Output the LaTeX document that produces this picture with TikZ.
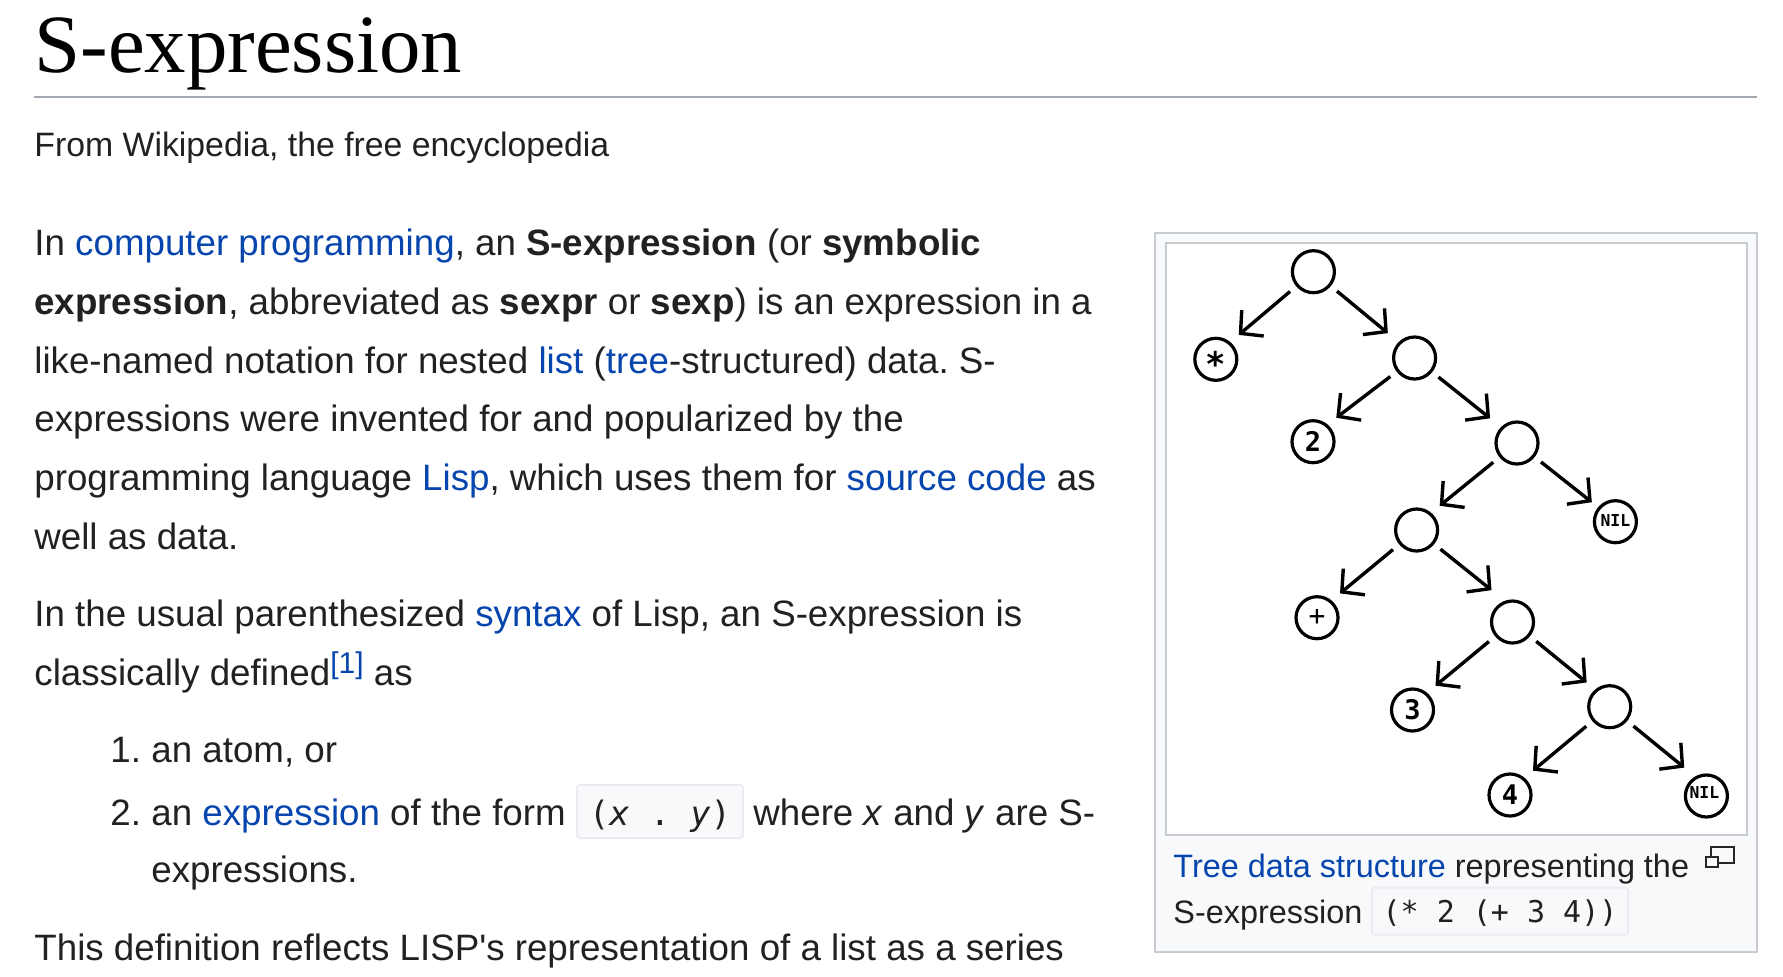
\documentclass[tikz,border=0pt]{standalone}
\usepackage{fontspec}
\setmainfont{Liberation Sans}
\setmonofont{DejaVu Sans Mono}
\newfontfamily\headingfont{Liberation Serif}
\newfontfamily\plainfont{Liberation Sans}
\usetikzlibrary{arrows.meta}
\definecolor{linkblue}{HTML}{0645AD}
\definecolor{bodygray}{HTML}{202122}
\definecolor{rulegray}{HTML}{A2A9B1}
\definecolor{boxgray}{HTML}{C8CCD1}
\definecolor{panelgray}{HTML}{F8F9FA}
\definecolor{codeline}{HTML}{EAECF0}
\newcommand{\wikilink}[1]{\textcolor{linkblue}{#1}}
\frenchspacing

\begin{document}
\begin{tikzpicture}[
    x=0.5pt,
    y=-0.5pt,
    heading/.style={
		anchor=base west,
		inner sep=0pt,
		font=\headingfont\fontsize{41.4}{46}\selectfont
	},
	subhead/.style={
		anchor=base west,
		inner sep=0pt,
		text=bodygray,
		font=\fontsize{16.9}{20}\selectfont
	},
	bodyline/.style={
		anchor=base west,
		inner sep=0pt,
		text=bodygray,
		font=\fontsize{18.36}{22}\selectfont
	},
	captionline/.style={
		anchor=base west,
		inner sep=0pt,
		text=bodygray,
		font=\fontsize{16.2}{20}\selectfont
	},
	codebox/.style={
		draw=codeline,
		line width=1pt,
		fill=panelgray,
		rounded corners=1.5pt,
		inner sep=0pt,
		text=bodygray
	},
	cell/.style={
		circle,
		draw=black,
		line width=1.6pt,
		fill=white,
		minimum size=21pt,
		inner sep=0pt
	},
	atom/.style={
		cell,
		font=\ttfamily\bfseries\fontsize{13.5}{14}\selectfont
	},
	nilatom/.style={
		cell,
		font=\ttfamily\bfseries\fontsize{8.2}{9}\selectfont
	},
	branch/.style={
		-{Straight Barb[length=8pt,width=17pt,line width=1.7pt]},
		line width=1.7pt,
		shorten <=4pt,
		shorten >=7pt
	},
	leftbranch/.style={
		branch,
		shorten >=5.5pt
	}
  ]
  \useasboundingbox (0,0) rectangle (1783,976);

  % title and the text column
  \node [heading] (title) at (34,72) {S-expression};
  \coordinate (ruleleft) at (34,97);
  \coordinate (ruleright) at (1757,97);
  \draw [rulegray, line width=1pt] (ruleleft) -- (ruleright);
  \node [subhead] (fromwiki) at (34,156) {From Wikipedia, the free encyclopedia};

  \node [bodyline] (para1a) at (34,255) {In \wikilink{computer programming}, an \textbf{S-expression} (or \textbf{symbolic}};
  \node [bodyline] (para1b) at (34,314) {\textbf{expression}, abbreviated as \textbf{sexpr} or \textbf{sexp}) is an expression in a};
  \node [bodyline] (para1c) at (34,373) {like-named notation for nested \wikilink{list} (\wikilink{tree}-structured) data. S-};
  \node [bodyline] (para1d) at (34,431) {expressions were invented for and popularized by the};
  \node [bodyline] (para1e) at (34,490) {programming language \wikilink{Lisp}, which uses them for \wikilink{source code} as};
  \node [bodyline] (para1f) at (34,549) {well as data.};

  \node [bodyline] (para2a) at (34,626) {In the usual parenthesized \wikilink{syntax} of Lisp, an S-expression is};
  \node [bodyline] (para2b) at (34,685) {classically defined\raisebox{6pt}{\wikilink{\fontsize{15}{16}\selectfont[1]}} as};

  \node [bodyline] (num1) at (110,762) {1.};
  \node [bodyline] (item1) at (151,762) {an atom, or};
  \node [bodyline] (num2) at (110,825) {2.};
  \node [bodyline] (item2a) at (151,825) {an \wikilink{expression} of the form};
  \node [codebox, minimum width=83pt, minimum height=26.5pt, text height=13.5pt, text depth=0pt, font=\ttfamily\fontsize{16.8}{18}\selectfont] (formcode) at (660,811.5) {(\textit{x} . \textit{y})};
  \node [bodyline] (item2b) at (753,825) {where \textit{x} and \textit{y} are S-};
  \node [bodyline] (item2c) at (151,882) {expressions.};

  \node [bodyline] (para3) at (34,960) {This definition reflects LISP{\plainfont '}s representation of a list as a series};

  % the panel with the tree
  \node [draw=boxgray, line width=1pt, fill=panelgray, minimum width=301pt, minimum height=359.5pt, inner sep=0pt] (panel) at (1456,592.5) {};
  \node [draw=boxgray, line width=1pt, fill=white, minimum width=290.5pt, minimum height=296pt, inner sep=0pt] (figure) at (1456.6,539) {};

  % We start by placing the cells, then the atoms
  \node [cell] (cell1) at (1313.4,271.7) {};
  \node [cell] (cell2) at (1414.6,358) {};
  \node [cell] (cell3) at (1517,443) {};
  \node [cell] (cell4) at (1416.6,530) {};
  \node [cell] (cell5) at (1512.5,622) {};
  \node [cell] (cell6) at (1609.7,706.7) {};

  \node [atom, text height=17pt, text depth=0pt, font=\ttfamily\bfseries\fontsize{17}{18}\selectfont] (times) at (1215.8,359.3) {*};
  \node [atom] (two) at (1313,441.7) {2};
  \node [nilatom] (nil1) at (1615.4,521.7) {\raisebox{1.5pt}{NIL}};
  \node [atom, font=\ttfamily\fontsize{14}{15}\selectfont] (plus) at (1317,617.7) {+};
  \node [atom] (three) at (1412.5,710) {3};
  \node [atom] (four) at (1510,795) {4};
  \node [nilatom] (nil2) at (1706.4,796) {\hspace{-2pt}\raisebox{3pt}{NIL}};

  \draw [leftbranch] (cell1) -- (times.50);
  \draw [branch] (cell1) -- (cell2.135);
  \draw [leftbranch] (cell2) -- (two.50);
  \draw [branch] (cell2) -- (cell3.135);
  \draw [leftbranch] (cell3) -- (cell4.50);
  \draw [branch, shorten >=4pt] (cell3) -- (nil1.140);
  \draw [leftbranch] (cell4) -- (plus.50);
  \draw [branch, shorten >=8.5pt] (cell4) -- (cell5.110);
  \draw [leftbranch] (cell5) -- (three.50);
  \draw [branch, shorten >=5.5pt] (cell5) -- (cell6.130);
  \draw [leftbranch] (cell6) -- (four.50);
  \draw [branch] (cell6) -- (nil2.120);

  % caption below the tree
  \node [captionline] (caption1) at (1173,877) {\wikilink{Tree data structure} representing the};
  \node [captionline] (caption2) at (1173,923) {S-expression};
  \node [codebox, minimum width=128pt, minimum height=23.5pt, text height=11pt, text depth=0pt, font=\ttfamily\fontsize{15}{16}\selectfont] (captioncode) at (1500,911) {(* 2 (+ 3 4))};

  % the little enlarge icon
  \draw [black!85, line width=1pt, fill=panelgray] (1711,847) rectangle (1734,863);
  \draw [black!85, line width=1pt, fill=panelgray] (1706,857) rectangle (1718,867);
\end{tikzpicture}
\end{document}
